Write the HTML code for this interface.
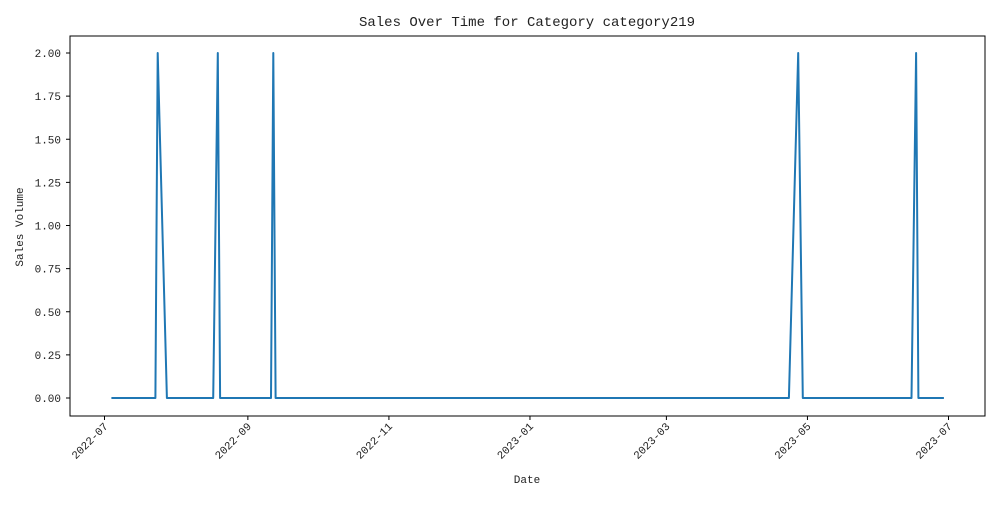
<!DOCTYPE html>
<html><head><meta charset="utf-8"><style>
body{margin:0;background:#fff;width:1000px;height:500px;overflow:hidden}
svg text{font-family:"Liberation Mono","Noto Serif CJK SC",monospace;fill:#222}
</style></head><body>
<svg id="chart" width="1000" height="500">
<rect x="0" y="0" width="1000" height="500" fill="#fff"/>
<text x="527" y="26" font-size="14" text-anchor="middle">Sales Over Time for Category category219</text>
<text x="527" y="483" font-size="11" text-anchor="middle">Date</text>
<text transform="translate(23,227) rotate(-90)" font-size="11" text-anchor="middle">Sales Volume</text>
<g id="yaxis"></g>
<g id="xaxis"></g>
<path id="line" fill="none" stroke="#1f77b4" stroke-width="2" stroke-linejoin="round"/>
<rect x="70" y="36" width="915" height="380" fill="none" stroke="#000" stroke-width="1"/>
</svg>
<script>
const dates=["2022-07-04","2022-07-23","2022-07-24","2022-07-28","2022-08-17","2022-08-19","2022-08-20","2022-09-11","2022-09-12","2022-09-13","2023-04-23","2023-04-27","2023-04-29","2023-06-15","2023-06-17","2023-06-18","2023-06-29"];
const sales=[0,0,2,0,0,2,0,0,2,0,0,2,0,0,2,0,0];
const yTicks=[0,0.25,0.5,0.75,1,1.25,1.5,1.75,2];
const xTicks=["2022-07","2022-09","2022-11","2023-01","2023-03","2023-05","2023-07"];
const NS="http://www.w3.org/2000/svg";
const t0=Date.UTC(2022,6,1),t1=Date.UTC(2023,6,1);
function xs(s){const p=s.split("-").map(Number);const t=Date.UTC(p[0],p[1]-1,p[2]||1);return 104.5+(t-t0)/(t1-t0)*844;}
function ys(v){return 398-v*172.5;}
const ya=document.getElementById("yaxis");
yTicks.forEach(v=>{
 const l=document.createElementNS(NS,"line");
 
 
 l.setAttribute("x1",66);l.setAttribute("x2",70);l.setAttribute("y1",ys(v));l.setAttribute("y2",ys(v));l.setAttribute("stroke","#000");ya.appendChild(l);
 const t=document.createElementNS(NS,"text");
 
 
 t.setAttribute("x",61);t.setAttribute("y",ys(v)+4);t.setAttribute("font-size","11");t.setAttribute("text-anchor","end");t.textContent=v.toFixed(2);ya.appendChild(t);
});
const xa=document.getElementById("xaxis");
xTicks.forEach(s=>{
 const x=xs(s);
 const l=document.createElementNS(NS,"line");
 
 
 l.setAttribute("x1",x);l.setAttribute("x2",x);l.setAttribute("y1",416);l.setAttribute("y2",420);l.setAttribute("stroke","#000");xa.appendChild(l);
 const t=document.createElementNS(NS,"text");
 
 
 t.setAttribute("font-size","11");t.setAttribute("text-anchor","end");
 t.setAttribute("transform","translate("+(x+4)+",427) rotate(-45)");t.textContent=s;xa.appendChild(t);
});
document.getElementById("line").setAttribute("d",dates.map((d,i)=>(i?"L":"M")+xs(d).toFixed(1)+","+ys(sales[i]).toFixed(1)).join(""));
</script>
</body></html>
